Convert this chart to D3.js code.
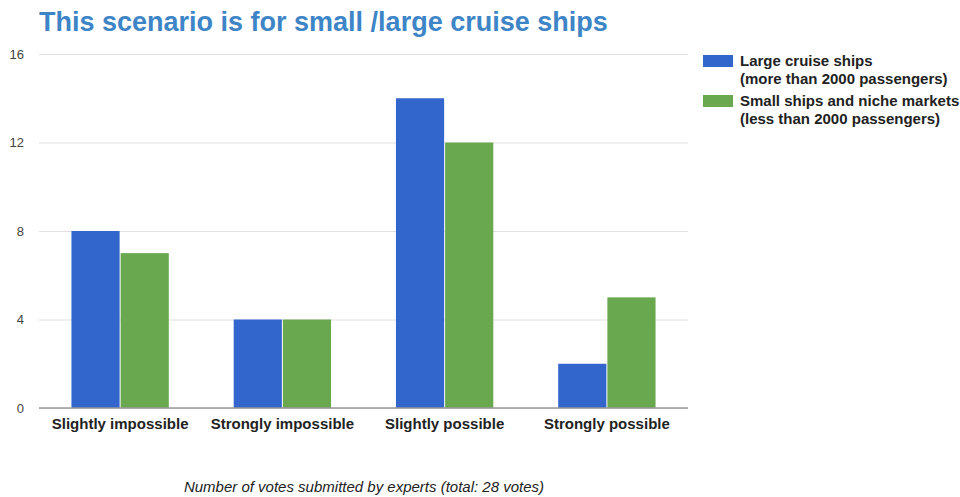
<!DOCTYPE html>
<html>
<head>
<meta charset="utf-8">
<script src="https://cdn.jsdelivr.net/npm/d3@7"></script>
<style>
  html, body { margin: 0; padding: 0; background: #fff; }
  svg { display: block; font-family: "Liberation Sans", Arial, sans-serif; }
</style>
</head>
<body>
<div id="chart"></div>
<script>
// Vote counts per answer, for each ship segment
const categories = ["Slightly impossible", "Strongly impossible", "Slightly possible", "Strongly possible"];
const seriesNames = [
  ["Large cruise ships", "(more than 2000 passengers)"],
  ["Small ships and niche markets", "(less than 2000 passengers)"]
];
const largeShips = [8, 4, 14, 2];
const smallShips = [7, 4, 12, 5];
const yTicks = [0, 4, 8, 12, 16];
const colors = ["#3366cc", "#6aa84f"];

const width = 960, height = 497;
const margin = { left: 39, right: 272, top: 54, bottom: 89 };
const plotRight = width - margin.right;
const plotBottom = height - margin.bottom;
const fontFamily = "\"Liberation Sans\", Arial, sans-serif";

const svg = d3.select("#chart").append("svg")
  .attr("width", width).attr("height", height);

const x = d3.scaleBand().domain(categories)
  .range([margin.left, plotRight]).paddingInner(0.4).paddingOuter(0.2);
const xInner = d3.scaleBand().domain([0, 1]).range([0, x.bandwidth()]);
const y = d3.scaleLinear().domain([0, 16]).range([plotBottom, margin.top]);

// Title
svg.append("text")
  .attr("x", 39).attr("y", 31)
  .attr("fill", "#3d85c6")
  .attr("font-size", 27).attr("font-weight", "bold")
  .text("This scenario is for small /large cruise ships");

// Gridlines and y tick labels
const yAxis = d3.axisLeft(y).tickValues(yTicks).tickSize(-(plotRight - margin.left)).tickPadding(15);
const gy = svg.append("g").attr("transform", `translate(${margin.left},0)`).call(yAxis);
gy.select(".domain").remove();
gy.selectAll(".tick line").attr("stroke", "#e0e0e0");
gy.selectAll(".tick text").attr("fill", "#444").attr("font-size", 13)
  .attr("font-family", fontFamily);

// Bars
const data = categories.map((c, i) => ({ cat: c, vals: [largeShips[i], smallShips[i]] }));
const groups = svg.append("g").selectAll("g").data(data).join("g")
  .attr("transform", d => `translate(${x(d.cat)},0)`);
groups.selectAll("rect").data(d => d.vals).join("rect")
  .attr("x", (v, j) => xInner(j) + (j === 1 ? 0.5 : 0))
  .attr("width", (v, j) => xInner.bandwidth() - 0.5)
  .attr("y", v => y(v))
  .attr("height", v => y(0) - y(v))
  .attr("fill", (v, j) => colors[j]);

// Baseline
svg.append("line")
  .attr("x1", margin.left).attr("x2", plotRight)
  .attr("y1", y(0)).attr("y2", y(0))
  .attr("stroke", "#999").attr("stroke-width", 1.5);

// Category labels
const xAxis = d3.axisBottom(x).tickSize(0).tickPadding(10);
const gx = svg.append("g").attr("transform", `translate(0,${plotBottom})`).call(xAxis);
gx.select(".domain").remove();
gx.selectAll(".tick text").attr("fill", "#222").attr("font-size", 15)
  .attr("font-weight", "bold")
  .attr("font-family", fontFamily);

// Axis caption
svg.append("text")
  .attr("x", 364).attr("y", 492)
  .attr("text-anchor", "middle")
  .attr("fill", "#222").attr("font-size", 15).attr("font-style", "italic")
  .text("Number of votes submitted by experts (total: 28 votes)");

// Legend
const legend = svg.append("g").attr("transform", "translate(703,55)");
seriesNames.forEach((lines, i) => {
  const g = legend.append("g").attr("transform", `translate(0,${i * 40})`);
  g.append("rect").attr("width", 30).attr("height", 12).attr("fill", colors[i]);
  lines.forEach((t, k) => {
    g.append("text")
      .attr("x", 37).attr("y", 11 + k * 18)
      .attr("fill", "#222").attr("font-size", 15).attr("font-weight", "bold")
      .text(t);
  });
});
</script>
</body>
</html>
